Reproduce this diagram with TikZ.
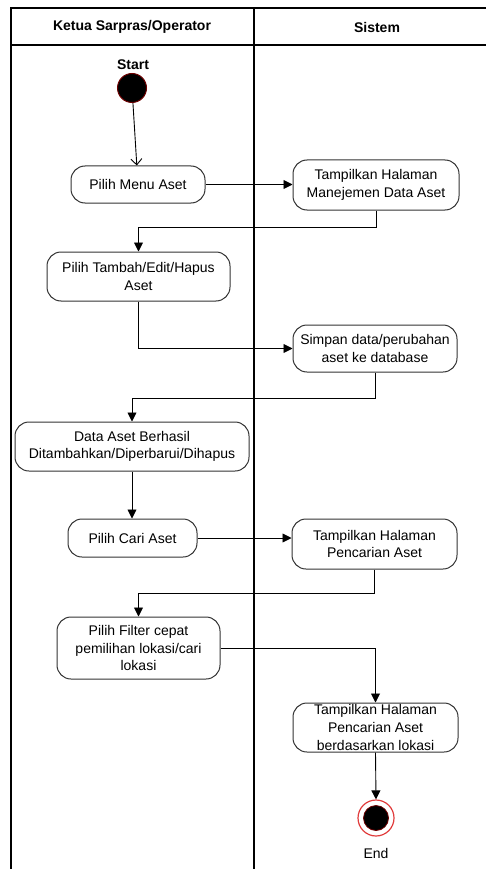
\documentclass[tikz,border=0pt]{standalone}
\usepackage{fontspec}
\setmainfont{Liberation Sans}
\usetikzlibrary{arrows.meta}
\tikzset{
  act/.style={draw={rgb,255:red,50;green,50;blue,50}, line width=1pt, rounded corners=14pt, align=center, inner sep=1pt, font=\fontsize{14}{17.5}\selectfont},
  flow/.style={line width=0.9pt, -{Triangle[length=9pt,width=9pt]}},
  openflow/.style={line width=0.9pt, -{Straight Barb[length=6pt,width=11pt]}},
  lane/.style={line width=1.4pt, black},
  hdr/.style={font=\fontsize{14}{17}\selectfont\bfseries},
  lbl/.style={font=\fontsize{14}{17}\selectfont},
}
\begin{document}
\begin{tikzpicture}[x=1pt,y=-1pt]
\useasboundingbox (0,0) rectangle (486,869);
% swimlanes
\draw[lane] (11,869) -- (11,8) -- (486,8);
\draw[lane] (11,45) -- (486,45);
\draw[lane] (254,8) -- (254,869);
\node[hdr] (h1) at (132,27) {Ketua Sarpras/Operator};
\node[hdr] (h2) at (377,27) {Sistem};
% start
\node[hdr] (startlbl) at (133,65) {Start};
\node[circle, fill=black, draw={rgb,255:red,110;green,0;blue,0}, line width=1pt, minimum size=29pt, inner sep=0pt] (start) at (132,88) {};
% activities
\node[act, minimum width=134pt, minimum height=37pt] (a1) at (138,184.5) {Pilih Menu Aset};
\node[act, minimum width=166pt, minimum height=50pt] (s1) at (376,185) {Tampilkan Halaman\\Manejemen Data Aset};
\node[act, minimum width=183pt, minimum height=49pt] (a2) at (138.5,276.5) {Pilih Tambah/Edit/Hapus\\Aset};
\node[act, minimum width=164pt, minimum height=47pt] (s2) at (375,348.5) {Simpan data/perubahan\\aset ke database};
\node[act, minimum width=234pt, minimum height=49pt] (a3) at (132,446.5) {Data Aset Berhasil\\Ditambahkan/Diperbarui/Dihapus};
\node[act, minimum width=129pt, minimum height=38pt] (a4) at (132.5,538) {Pilih Cari Aset};
\node[act, minimum width=165pt, minimum height=50pt] (s3) at (374.5,544) {Tampilkan Halaman\\Pencarian Aset};
\node[act, minimum width=163pt, minimum height=62pt] (a5) at (138.5,648) {Pilih Filter cepat\\pemilihan lokasi/cari\\lokasi};
\node[act, minimum width=165pt, minimum height=49pt, font=\fontsize{14}{18}\selectfont] (s4) at (375.5,727.5) {Tampilkan Halaman\\Pencarian Aset\\berdasarkan lokasi};
% end
\node[circle, fill=white, draw={rgb,255:red,225;green,60;blue,60}, line width=1.2pt, minimum size=36pt, inner sep=0pt] (end) at (376,818) {};
\node[circle, fill=black, draw={rgb,255:red,110;green,0;blue,0}, line width=0.8pt, minimum size=25pt, inner sep=0pt] (endin) at (376,818) {};
\node[lbl] (endlbl) at (376,853) {End};
% connectors
\draw[openflow] (start) -- (a1);
\draw[flow] (a1.east) -- (a1.east -| s1.west);
\draw[flow] (s1.south) -- ++(0,17) -| (a2.north);
\draw[flow] (a2.south) |- (s2.west);
\draw[flow] (s2.south) -- ++(0,26) -| (a3.north);
\draw[flow] (a3.south) -- (a3.south |- a4.north);
\draw[flow] (a4.east) -- (a4.east -| s3.west);
\draw[flow] (s3.south) -- ++(0,24) -| (a5.north);
\draw[flow] (a5.east) -| (s4.north);
\draw[flow] (s4.south) -- (end.north);
\end{tikzpicture}
\end{document}
